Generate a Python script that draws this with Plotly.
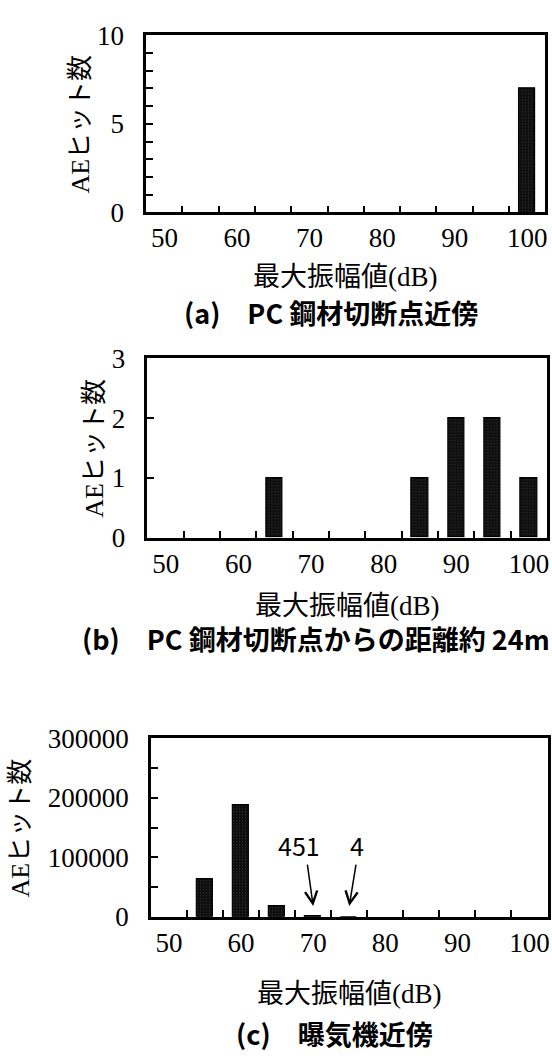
import plotly.graph_objects as go

# Amplitude bins (dB) and AE hit counts for the three sensor locations
amplitude_db = [50, 55, 60, 65, 70, 75, 80, 85, 90, 95, 100]
hits_a = [0, 0, 0, 0, 0, 0, 0, 0, 0, 0, 7]
hits_b = [0, 0, 0, 1, 0, 0, 0, 1, 2, 2, 1]
hits_c = [0, 63000, 188000, 18000, 451, 4, 0, 0, 0, 0, 0]

x_tick_labels = [50, 60, 70, 80, 90, 100]
BIN_WIDTH = 5  # dB per bin; boundary ticks sit halfway between bins

y_title = "AEヒット数"
x_title = "最大振幅値(dB)"
captions = [
    "(a)\u3000PC 鋼材切断点近傍",
    "(b)\u3000PC 鋼材切断点からの距離約 24m",
    "(c)\u3000曝気機近傍",
]

W, H = 552, 1062
SERIF = "Liberation Serif, Noto Sans CJK JP"
GOTHIC = "Noto Sans CJK JP"


def fx(px):
    return px / W


def fy(py):
    return 1 - py / H


# pixel layout of each panel: box left/right/top/bottom, y range, y ticks
panels = [
    dict(hits=hits_a, box=(146.7, 547.3, 21.0, 203.0), yr=[0, 10],
         yticks=[0, 5, 10], yminor=1, ytx=81, xty=270, cap_y=306, cap_x=332),
    dict(hits=hits_b, box=(148.0, 549.0, 353.3, 538.0), yr=[0, 3],
         yticks=[0, 1, 2, 3], yminor=None, ytx=94, xty=608, cap_y=642, cap_x=317),
    dict(hits=hits_c, box=(151.5, 549.5, 744.3, 928.0), yr=[0, 300000],
         yticks=[0, 100000, 200000, 300000], yminor=50000, ytx=21, xty=1007,
         cap_y=1048, cap_x=336),
]

x_lo = amplitude_db[0] - BIN_WIDTH / 2
x_hi = amplitude_db[-1] + BIN_WIDTH / 2

# Ticks sit on the upper edge of every bin; the label of a bin is attached to
# its upper edge and shifted back by half a bin so it reads under the bar.
edge_vals = [v + BIN_WIDTH / 2 for v in amplitude_db]
edge_text = [str(v) if v in x_tick_labels else "" for v in amplitude_db]

fig = go.Figure()
annotations = []

for i, p in enumerate(panels, start=1):
    sfx = "" if i == 1 else str(i)
    xa, ya = "x" + sfx, "y" + sfx
    left, right, top, bottom = p["box"]
    half_bin_px = int(round((right - left) / (x_hi - x_lo) * BIN_WIDTH / 2))

    fig.add_trace(go.Bar(
        x=amplitude_db, y=p["hits"], width=2.25,
        marker=dict(
            color="#0d0d0d",
            line=dict(color="black",
                      width=[1.2 if v > 0 else 0 for v in p["hits"]]),
            pattern=dict(shape=".", fgcolor="#5a5a5a", size=3,
                         solidity=0.15, fillmode="overlay"),
        ),
        xaxis=xa, yaxis=ya, showlegend=False, hoverinfo="x+y",
    ))

    fig.layout["xaxis" + sfx] = dict(
        domain=[fx(left), fx(right)], anchor=ya, range=[x_lo, x_hi],
        tickmode="array", tickvals=edge_vals, ticktext=edge_text,
        ticks="inside", ticklen=7, tickwidth=2, tickcolor="black",
        ticklabelshift=-half_bin_px, ticklabelstandoff=0,
        tickfont=dict(family=SERIF, size=27, color="black"),
        showline=True, mirror=True, linecolor="black", linewidth=2.5,
        showgrid=False, zeroline=False, fixedrange=True,
    )
    yax = dict(
        domain=[fy(bottom), fy(top)], anchor=xa, range=p["yr"],
        tickmode="array", tickvals=p["yticks"], tickformat="d",
        ticks="inside", ticklen=7, tickwidth=2, tickcolor="black",
        ticklabelstandoff=14,
        tickfont=dict(family=SERIF, size=27, color="black"),
        showline=True, mirror=True, linecolor="black", linewidth=2.5,
        showgrid=False, zeroline=False, fixedrange=True,
    )
    if p["yminor"]:
        yax["minor"] = dict(dtick=p["yminor"], tick0=0, ticks="inside",
                            ticklen=7, tickwidth=2, tickcolor="black")
    fig.layout["yaxis" + sfx] = yax

    # axis titles
    annotations.append(dict(
        text=x_title, xref="paper", yref="paper",
        x=fx((left + right) / 2), y=fy(p["xty"]),
        xanchor="center", yanchor="middle", showarrow=False,
        font=dict(family=SERIF, size=27, color="black"),
    ))
    annotations.append(dict(
        text=y_title, xref="paper", yref="paper",
        x=fx(p["ytx"]), y=fy((top + bottom) / 2), textangle=-90,
        xanchor="center", yanchor="middle", showarrow=False,
        font=dict(family=SERIF, size=26, color="black"),
    ))
    # panel caption
    annotations.append(dict(
        text="<b>" + captions[i - 1] + "</b>", xref="paper", yref="paper",
        x=fx(p["cap_x"]), y=fy(p["cap_y"]),
        xanchor="center", yanchor="middle", showarrow=False,
        font=dict(family=GOTHIC, size=27, color="black"),
    ))

# small counts in panel (c) that are too short to see, marked with arrows
for xv, dx_arrow, dx_text in [(70, -6, -14), (75, 7, 8)]:
    count = hits_c[amplitude_db.index(xv)]
    annotations.append(dict(
        text="", xref="x3", yref="y3", x=xv, y=18000,
        ax=dx_arrow, ay=-43, showarrow=True,
        arrowhead=5, arrowsize=1.6, arrowwidth=1.5, arrowcolor="black",
    ))
    annotations.append(dict(
        text=str(count), xref="x3", yref="y3", x=xv, y=120000,
        xshift=dx_text, xanchor="center", yanchor="middle", showarrow=False,
        font=dict(family=GOTHIC, size=25, color="black"),
    ))

fig.update_layout(
    width=W, height=H, margin=dict(l=0, r=0, t=0, b=0),
    paper_bgcolor="white", plot_bgcolor="white",
    annotations=annotations, bargap=0,
)

fig.write_html("out.html")
